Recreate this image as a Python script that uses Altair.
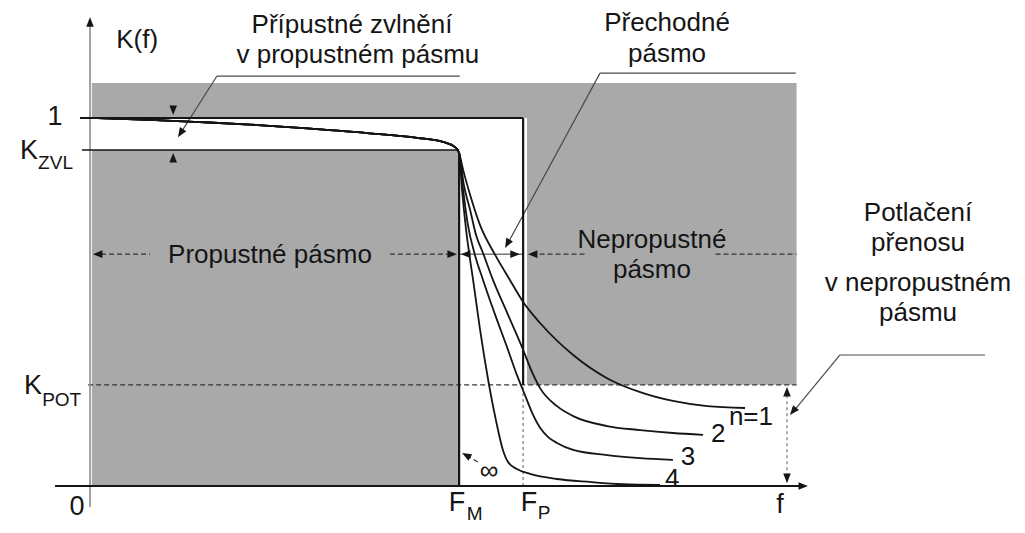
import altair as alt
import pandas as pd

# ---------------- data (f normalised to F_M = 1, K normalised to 1) ----------------
# shared pass-band part of every response curve
pass_f = [0.0, 0.163, 0.299, 0.435, 0.571, 0.753, 0.889, 0.959, 0.992, 1.003]
pass_k = [1.0, 0.995, 0.989, 0.982, 0.973, 0.959, 0.946, 0.935, 0.921, 0.905]

n1_f = [1.014, 1.033, 1.060, 1.101, 1.141, 1.177, 1.223, 1.313, 1.405, 1.495, 1.584, 1.677, 1.780]
n1_k = [0.859, 0.791, 0.709, 0.628, 0.560, 0.500, 0.443, 0.356, 0.293, 0.255, 0.231, 0.217, 0.212]
n2_f = [1.016, 1.033, 1.049, 1.068, 1.095, 1.136, 1.177, 1.201, 1.223, 1.269, 1.313, 1.405, 1.495, 1.584, 1.666]
n2_k = [0.818, 0.750, 0.682, 0.633, 0.560, 0.465, 0.370, 0.310, 0.266, 0.217, 0.190, 0.163, 0.152, 0.144, 0.139]
n3_f = [1.014, 1.027, 1.046, 1.068, 1.101, 1.133, 1.160, 1.182, 1.204, 1.223, 1.245, 1.269, 1.313, 1.405, 1.495, 1.584]
n3_k = [0.804, 0.709, 0.628, 0.560, 0.465, 0.378, 0.302, 0.247, 0.193, 0.158, 0.133, 0.117, 0.098, 0.084, 0.076, 0.071]
n4_f = [1.011, 1.022, 1.033, 1.041, 1.060, 1.082, 1.103, 1.122, 1.136, 1.160, 1.196, 1.269, 1.359, 1.448, 1.549]
n4_k = [0.804, 0.696, 0.614, 0.560, 0.424, 0.288, 0.179, 0.098, 0.065, 0.046, 0.033, 0.019, 0.011, 0.005, 0.003]

curve_names = ["n=1", "2", "3", "4"]

# tolerance scheme levels
F_M = 1.003
F_P = 1.177
F_END = 1.92
K_TOP = 1.095
K_ZVL = 0.913
K_POT = 0.275

# shaded (forbidden) regions
rect_x = [0.005, 0.005, 1.1875]
rect_x2 = [F_END, F_M, F_END]
rect_y = [1.0, 0.0, K_POT]
rect_y2 = [K_TOP, K_ZVL, 1.0]

# text labels
main_text = ["K(f)", "Přípustné zvlnění", "v propustném pásmu", "Přechodné", "pásmo",
             "Propustné pásmo", "Nepropustné", "pásmo",
             "Potlačení", "přenosu", "v nepropustném", "pásmu"]
main_x = [0.128, 0.712, 0.728, 1.568, 1.568, 0.489, 1.527, 1.527, 2.25, 2.25, 2.25, 2.25]
main_y = [1.212, 1.253, 1.171, 1.258, 1.174, 0.628, 0.668, 0.587, 0.742, 0.660, 0.552, 0.470]

axis_text = ["1", "K", "K", "0", "F", "F", "f"]
axis_x = [-0.095, -0.166, -0.155, -0.035, 0.997, 1.193, 1.875]
axis_y = [1.003, 0.910, 0.272, -0.057, -0.046, -0.046, -0.052]

sub_text = ["ZVL", "POT", "M", "P"]
sub_x = [-0.141, -0.130, 1.024, 1.217]
sub_y = [0.878, 0.234, -0.076, -0.073]

curve_lab_text = ["n=1", "2", "3", "4", "∞"]
curve_lab_x = [1.796, 1.707, 1.625, 1.582, 1.084]
curve_lab_y = [0.187, 0.141, 0.079, 0.019, 0.041]

# ---------------- scales ----------------
W, H = 1009, 517
PX = 368.0  # pixels per unit
XS = alt.Scale(domain=[-82 / PX, (W - 82) / PX], nice=False, zero=False)
YS = alt.Scale(domain=[(478 - H) / PX, 478 / PX], nice=False, zero=False)
FONT = "Liberation Sans"
GRAY = "#a9a9a9"
INK = "#151515"


def xe(f="x"):
    return alt.X(f"{f}:Q", scale=XS, axis=None)


def ye(f="y"):
    return alt.Y(f"{f}:Q", scale=YS, axis=None)


def segs(rows, **mk):
    df = pd.DataFrame(rows, columns=["x", "y", "x2", "y2"])
    return alt.Chart(df).mark_rule(**mk).encode(
        x=xe(), y=ye(), x2=alt.X2("x2:Q"), y2=alt.Y2("y2:Q"))


# shaded regions
rect_df = pd.DataFrame({"x": rect_x, "x2": rect_x2, "y": rect_y, "y2": rect_y2})
rects = alt.Chart(rect_df).mark_rect(color=GRAY).encode(
    x=xe(), x2=alt.X2("x2:Q"), y=ye(), y2=alt.Y2("y2:Q"))

# response curves
rows = []
for name, fs, ks in zip(curve_names, [n1_f, n2_f, n3_f, n4_f], [n1_k, n2_k, n3_k, n4_k]):
    for i, (f, k) in enumerate(zip(pass_f + fs, pass_k + ks)):
        rows.append({"curve": name, "i": i, "x": f, "y": k})
curve_df = pd.DataFrame(rows)
curves = alt.Chart(curve_df).mark_line(
    interpolate="monotone", color=INK, strokeWidth=1.8).encode(
    x=xe(), y=ye(), detail="curve:N", order="i:Q")

dark = segs([
    (-0.027, 1.0, F_P, 1.0),
    (F_P, 1.0, F_P, K_POT),
    (F_M, 0.905, F_M, 0.0),
    (-0.095, 0.0, 1.94, 0.0),
], color=INK, strokeWidth=2.2)
zvl = segs([(-0.022, K_ZVL, F_M, K_ZVL)], color=INK, strokeWidth=1.6)
yaxis = segs([(0.0, -0.057, 0.0, 1.26)], color="#8c8c8c", strokeWidth=1.6)
leaders = segs([
    (0.345, 1.114, 1.005, 1.114),
    (0.345, 1.114, 0.245, 0.957),
    (1.386, 1.122, 1.918, 1.122),
    (1.386, 1.122, 1.133, 0.655),
    (2.038, 0.356, 2.432, 0.356),
    (2.038, 0.356, 1.910, 0.201),
], color="#4a4a4a", strokeWidth=1.2)
dashed = segs([
    (-0.005, K_POT, F_END, K_POT),
    (0.03, 0.63, 0.163, 0.63),
    (0.815, 0.63, 0.99, 0.63),
    (1.20, 0.63, 1.35, 0.63),
    (1.70, 0.63, F_END, 0.63),
    (1.054, 0.065, 1.022, 0.084),
], color="#333333", strokeWidth=1.2, strokeDash=[5, 3])
thin = segs([(1.003, 0.63, 1.177, 0.63)], color="#333333", strokeWidth=1.0)
dotted = segs([
    (F_P, 0.0, F_P, K_POT),
    (1.894, 0.01, 1.894, 0.27),
], color="#9a9a9a", strokeWidth=1.6, strokeDash=[3, 3])

# arrow heads: tip at the point, angle in degrees (0 = pointing right, clockwise)
arr_x = [0.0, 1.951, 0.226, 0.226, 0.239, 0.008, 0.997, 1.008, 1.168, 1.190, 1.128, 1.894, 1.894, 1.902, 1.011]
arr_y = [1.274, 0.0, 1.008, 0.905, 0.948, 0.630, 0.630, 0.630, 0.630, 0.630, 0.647, 0.269, 0.008, 0.193, 0.090]
arr_a = [270, 0, 90, 270, 122.6, 180, 0, 180, 0, 180, 118.5, 270, 90, 129.8, 209.4]
arr_df = pd.DataFrame({"x": arr_x, "y": arr_y, "a": arr_a})
arrows = alt.Chart(arr_df).mark_point(
    shape="M0,0L-2,-0.8L-2,0.8Z", filled=True, color=INK, opacity=1, size=90).encode(
    x=xe(), y=ye(), angle=alt.Angle("a:Q", scale=None))


def texts(labels, xs, ys, size, align="center"):
    df = pd.DataFrame({"t": labels, "x": xs, "y": ys})
    return alt.Chart(df).mark_text(
        font=FONT, fontSize=size, align=align, baseline="middle", color=INK).encode(
        x=xe(), y=ye(), text="t:N")


t_main = texts(main_text, main_x, main_y, 26)
t_axis = texts(axis_text, axis_x, axis_y, 27)
t_sub = texts(sub_text, sub_x, sub_y, 19, align="left")
t_curve = texts(curve_lab_text, curve_lab_x, curve_lab_y, 26)

chart = alt.layer(
    rects, dotted, dashed, thin, leaders, yaxis, zvl, dark, curves, arrows,
    t_main, t_axis, t_sub, t_curve,
).properties(
    width=W, height=H, autosize="none", padding=0, background="white"
).configure_view(stroke=None)

chart.save("out.html", embed_options={"renderer": "svg", "actions": False})
